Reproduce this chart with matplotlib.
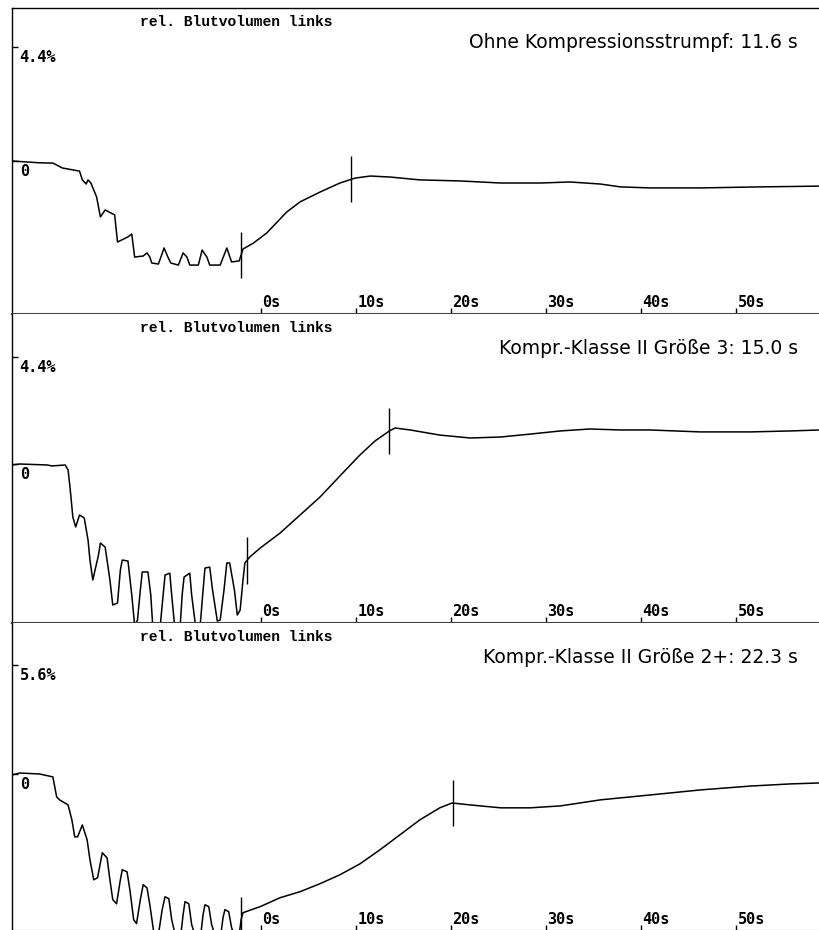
import matplotlib
matplotlib.use("Agg")

import numpy as np
import matplotlib.pyplot as plt

# Relative blood volume traces (time in s, volume in %), one per stocking condition
titles = [
    "Ohne Kompressionsstrumpf: 11.6 s",
    "Kompr.-Klasse II Größe 3: 15.0 s",
    "Kompr.-Klasse II Größe 2+: 22.3 s",
]
scale_top = [4.4, 4.4, 5.6]
scale_labels = ["4.4%", "4.4%", "5.6%"]
marker_start = [-2.1, -1.5, -2.1]
durations = [11.6, 15.0, 22.3]
time_ticks = [0, 10, 20, 30, 40, 50]

t1 = [-26.2, -23.3, -21.9, -20.9, -19.1, -18.8, -18.4, -18.2, -17.9, -17.3,
      -16.9, -16.4, -16.0, -15.4, -15.1, -14.0, -13.6, -13.3, -12.4, -12.0,
      -11.7, -11.5, -10.8, -10.2, -9.8, -9.5, -8.7, -8.2, -7.8, -7.5,
      -6.6, -6.2, -5.7, -5.4, -4.3, -3.6, -3.1, -2.3, -1.9, -0.8,
      0.6, 2.7, 4.1, 6.2, 8.3, 9.9, 11.5, 13.6, 16.7, 20.9,
      25.2, 29.4, 32.5, 35.7, 37.8, 40.9, 46.2, 52.5, 58.8]
v1 = [0.00, -0.07, -0.08, -0.27, -0.39, -0.73, -0.89, -0.73, -0.85, -1.39,
      -2.16, -1.89, -1.97, -2.08, -3.13, -2.93, -2.82, -3.71, -3.67, -3.55,
      -3.71, -3.94, -3.98, -3.36, -3.71, -3.94, -4.02, -3.55, -3.71, -4.02,
      -4.02, -3.44, -3.71, -4.02, -4.02, -3.36, -3.90, -3.86, -3.40, -3.17,
      -2.78, -1.97, -1.58, -1.20, -0.85, -0.66, -0.58, -0.62, -0.73, -0.77,
      -0.85, -0.85, -0.81, -0.89, -1.00, -1.04, -1.04, -1.00, -0.97]

t2 = [-26.2, -25.4, -22.5, -22.0, -20.6, -20.3, -20.1, -19.8, -19.5, -19.1,
      -18.6, -18.2, -18.0, -17.7, -17.1, -16.9, -16.4, -15.9, -15.6, -15.1,
      -14.8, -14.6, -14.0, -13.6, -13.3, -13.0, -12.7, -12.5, -11.9, -11.6,
      -11.4, -10.6, -10.3, -10.1, -9.6, -9.4, -9.1, -8.5, -8.3, -8.1,
      -7.5, -7.3, -6.9, -6.4, -6.1, -5.9, -5.4, -5.1, -4.6, -4.3,
      -3.9, -3.6, -3.3, -2.8, -2.5, -2.2, -1.9, -1.7, -1.2, -0.1,
      2.0, 4.1, 6.2, 8.3, 10.4, 12.0, 13.5, 14.1, 15.7, 18.8,
      22.0, 25.2, 28.3, 31.5, 34.6, 37.8, 40.9, 46.2, 51.5, 55.7, 58.8]
v2 = [-0.04, 0.00, -0.04, -0.08, -0.04, -0.25, -0.95, -2.18, -2.59, -2.10,
      -2.22, -3.13, -3.95, -4.77, -3.74, -3.25, -3.42, -4.77, -5.80, -5.72,
      -4.36, -3.95, -3.99, -5.39, -6.63, -6.42, -5.19, -4.44, -4.44, -5.39,
      -6.63, -6.63, -5.39, -4.57, -4.49, -5.39, -6.63, -6.63, -5.39, -4.65,
      -4.49, -5.39, -6.63, -6.63, -5.19, -4.28, -4.24, -5.19, -6.46, -6.42,
      -5.19, -4.07, -4.07, -5.19, -6.21, -6.01, -4.77, -4.07, -3.83, -3.46,
      -2.84, -2.10, -1.36, -0.49, 0.37, 0.95, 1.36, 1.48, 1.40, 1.19,
      1.07, 1.11, 1.23, 1.36, 1.44, 1.40, 1.40, 1.32, 1.32, 1.36, 1.40]

t3 = [-26.2, -25.4, -23.3, -21.9, -21.5, -21.2, -20.3, -19.9, -19.6, -19.3,
      -18.8, -18.3, -18.0, -17.6, -17.2, -16.7, -16.2, -15.9, -15.6, -15.2,
      -14.8, -14.6, -14.1, -13.8, -13.4, -13.1, -12.7, -12.4, -12.0, -11.7,
      -11.3, -10.8, -10.4, -10.1, -9.7, -9.4, -8.9, -8.5, -8.2, -8.0,
      -7.6, -7.3, -6.8, -6.4, -6.1, -5.9, -5.5, -5.2, -4.7, -4.3,
      -4.0, -3.8, -3.4, -3.1, -2.6, -2.3, -2.1, -1.9, -0.1, 2.0,
      4.1, 6.2, 8.3, 10.4, 12.5, 14.6, 16.7, 18.8, 20.1, 22.0,
      25.2, 28.3, 31.5, 35.7, 40.9, 46.2, 51.5, 55.7, 58.8]
v3 = [-0.05, 0.05, 0.00, -0.15, -1.18, -1.33, -1.59, -2.36, -3.23, -3.23,
      -2.62, -3.38, -4.41, -5.44, -5.33, -4.05, -4.31, -5.44, -6.46, -6.67,
      -5.44, -4.92, -5.03, -5.95, -7.49, -7.69, -6.46, -5.69, -5.85, -6.72,
      -8.10, -8.26, -6.97, -6.31, -6.41, -7.49, -8.51, -8.51, -7.23, -6.56,
      -6.67, -7.74, -8.51, -8.51, -7.23, -6.72, -6.82, -7.74, -8.51, -8.51,
      -7.38, -6.97, -7.08, -7.90, -8.51, -8.26, -7.49, -7.13, -6.82, -6.36,
      -6.05, -5.64, -5.18, -4.62, -3.90, -3.13, -2.36, -1.74, -1.49, -1.59,
      -1.74, -1.74, -1.64, -1.33, -1.08, -0.82, -0.62, -0.51, -0.46]

traces = [(t1, v1), (t2, v2), (t3, v3)]

# panel geometry in pixels (top, bottom) and vertical range in %
W, H = 820, 930
left_px = 12
panel_px = [(8, 314), (314, 623), (623, 931)]
ylims = [(-5.91, 5.91), (-6.54, 6.17), (-8.07, 7.76)]
xlim = (-26.2, 58.8)

mono = "DejaVu Sans Mono"

fig = plt.figure(figsize=(W / 100, H / 100), dpi=100)
fig.patch.set_facecolor("white")

for i, ((t, v), (top, bot)) in enumerate(zip(traces, panel_px)):
    ax = fig.add_axes([left_px / W, (H - bot) / H, (W - left_px) / W, (bot - top) / H])
    ax.set_xlim(*xlim)
    ax.set_ylim(*ylims[i])
    ax.set_facecolor("white")

    ax.spines["right"].set_visible(False)
    ax.spines["top"].set_visible(i == 0)
    ax.spines["top"].set_linewidth(1.0)
    ax.spines["left"].set_linewidth(1.0)
    ax.spines["bottom"].set_color("#444444")
    ax.spines["bottom"].set_linewidth(1.5)

    ax.plot(t, v, color="black", lw=1.1, solid_joinstyle="round")

    # start / end markers of the refill time
    tm = np.array([marker_start[i], marker_start[i] + durations[i]])
    vm = np.interp(tm, t, v)
    half = 0.075 * (ylims[i][1] - ylims[i][0])
    ax.vlines(tm, vm - half, vm + half, color="black", lw=1.0)

    # axes ticks
    ax.set_xticks(time_ticks)
    ax.set_yticks([0, scale_top[i]])
    ax.tick_params(axis="both", direction="in", length=4, width=1.0,
                   labelbottom=False, labelleft=False, color="black")
    for tt in time_ticks:
        ax.annotate(f"{tt}s", xy=(tt, 0), xycoords=ax.get_xaxis_transform(),
                    xytext=(0.8, 5), textcoords="offset points",
                    ha="left", va="baseline", fontsize=11,
                    family=mono, fontweight="bold")
    for yv, lab in [(scale_top[i], scale_labels[i]), (0, "0")]:
        ax.annotate(lab, xy=(0, yv), xycoords=ax.get_yaxis_transform(),
                    xytext=(5.5, -2.0), textcoords="offset points",
                    ha="left", va="top", fontsize=11,
                    family=mono, fontweight="bold")

    ax.annotate("rel. Blutvolumen links", xy=(0.277, 1), xycoords="axes fraction",
                xytext=(0, -10), textcoords="offset points",
                ha="center", va="center", fontsize=10.5,
                family="Liberation Mono", fontweight="bold")
    ax.annotate(titles[i], xy=(0.973, 1), xycoords="axes fraction",
                xytext=(0, -24.5), textcoords="offset points",
                ha="right", va="center", fontsize=13.5, family="DejaVu Sans")

fig.savefig("out.png", dpi=100, facecolor="white")
